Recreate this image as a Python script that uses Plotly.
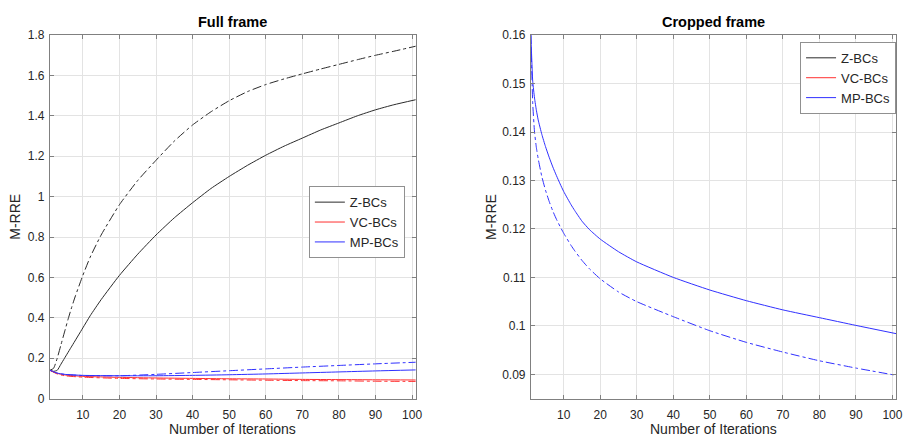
import plotly.graph_objects as go

# ---------------- data ----------------
# Full frame (left)
z_x = [1, 2, 3, 4, 5, 7, 10, 12, 15, 20, 25, 30, 35, 40, 45, 50, 55, 60, 65, 70, 75, 80, 85, 90, 95, 101]
z_solid = [0.14, 0.135, 0.14, 0.17, 0.20, 0.26, 0.35, 0.41, 0.49, 0.61, 0.715, 0.81, 0.895, 0.97, 1.04, 1.10,
           1.155, 1.205, 1.25, 1.29, 1.33, 1.365, 1.40, 1.43, 1.455, 1.48]
zd_x = [1, 2, 3, 4, 5, 6, 7, 8, 10, 12, 15, 20, 25, 30, 35, 40, 45, 50, 55, 60, 65, 70, 75, 80, 85, 90, 95, 101]
z_dash = [0.14, 0.15, 0.20, 0.265, 0.33, 0.395, 0.455, 0.51, 0.61, 0.70, 0.81, 0.96, 1.08, 1.18, 1.275, 1.355,
          1.42, 1.475, 1.52, 1.555, 1.583, 1.608, 1.632, 1.655, 1.678, 1.70, 1.72, 1.745]

v_x = [1, 3, 5, 10, 20, 30, 40, 50, 60, 70, 80, 90, 101]
vc_solid = [0.14, 0.125, 0.117, 0.110, 0.105, 0.102, 0.100, 0.098, 0.097, 0.095, 0.094, 0.093, 0.092]
vc_dash = [0.14, 0.122, 0.113, 0.106, 0.100, 0.097, 0.095, 0.093, 0.091, 0.089, 0.088, 0.086, 0.085]
mp_solid = [0.14, 0.126, 0.120, 0.115, 0.113, 0.113, 0.115, 0.118, 0.122, 0.127, 0.132, 0.137, 0.142]
mp_dash = [0.14, 0.126, 0.120, 0.114, 0.113, 0.120, 0.129, 0.138, 0.147, 0.156, 0.164, 0.172, 0.180]

# Cropped frame (right): MP-BCs
c_x = [1, 1.5, 2, 2.5, 3, 4, 5, 6, 7, 8, 9, 10, 12, 13, 15, 17, 20, 25, 30, 40, 50, 60, 70, 80, 90, 101]
c_solid = [0.16, 0.1505, 0.1470, 0.1445, 0.1425, 0.1395, 0.1370, 0.1348, 0.1328, 0.1310, 0.1293, 0.1277,
           0.1250, 0.1238, 0.1216, 0.1199, 0.1179, 0.1153, 0.1132, 0.1100, 0.1074, 0.1052, 0.1033, 0.1017,
           0.1001, 0.0984]
c_dash = [0.16, 0.1460, 0.1400, 0.1368, 0.1345, 0.1308, 0.1280, 0.1257, 0.1237, 0.1220, 0.1205, 0.1191,
          0.1166, 0.1155, 0.1135, 0.1118, 0.1097, 0.1070, 0.1050, 0.1019, 0.0990, 0.0966, 0.0946, 0.0928,
          0.0913, 0.0898]

x_ticks = [10, 20, 30, 40, 50, 60, 70, 80, 90, 100]
left_yticks = [0, 0.2, 0.4, 0.6, 0.8, 1, 1.2, 1.4, 1.6, 1.8]
right_yticks = [0.09, 0.1, 0.11, 0.12, 0.13, 0.14, 0.15, 0.16]
labels = ["Z-BCs", "VC-BCs", "MP-BCs"]

BLACK = "#2a2a2a"
RED = "#ff3030"
BLUE = "#3030ff"
FONT = "Liberation Sans, Arial, sans-serif"
TXT = "#262626"

fig = go.Figure()

def add(x, y, color, dash, name, show, xa, ya, legend):
    fig.add_trace(go.Scatter(
        x=x, y=y, mode="lines", name=name, showlegend=show,
        line=dict(color=color, width=1, dash=dash, shape="spline", smoothing=0.5),
        xaxis=xa, yaxis=ya, legend=legend, hoverinfo="skip"))

# left
add(z_x, z_solid, BLACK, "solid", labels[0], True, "x", "y", "legend")
add(v_x, vc_solid, RED, "solid", labels[1], True, "x", "y", "legend")
add(v_x, mp_solid, BLUE, "solid", labels[2], True, "x", "y", "legend")
add(zd_x, z_dash, BLACK, "dashdot", labels[0], False, "x", "y", "legend")
add(v_x, vc_dash, RED, "dashdot", labels[1], False, "x", "y", "legend")
add(v_x, mp_dash, BLUE, "dashdot", labels[2], False, "x", "y", "legend")

# right
add([None], [None], BLACK, "solid", labels[0], True, "x2", "y2", "legend2")
add([None], [None], RED, "solid", labels[1], True, "x2", "y2", "legend2")
add(c_x, c_solid, BLUE, "solid", labels[2], True, "x2", "y2", "legend2")
add(c_x, c_dash, BLUE, "dashdot", labels[2], False, "x2", "y2", "legend2")

W, H = 910, 445
L1, R1 = 50.3, 419.0
L2, R2 = 535.0, 903.0
TOP, BOT = 29.0, 404.3

axis_common = dict(
    showline=True, linecolor="#808080", linewidth=1, mirror="ticks",
    ticks="inside", ticklen=4, tickcolor="#808080", tickwidth=1,
    showgrid=True, gridcolor="#e3e3e3", gridwidth=1, zeroline=False,
    tickfont=dict(family=FONT, size=12, color=TXT),
)

fig.update_layout(
    width=W, height=H, margin=dict(l=0, r=0, t=0, b=0),
    paper_bgcolor="white", plot_bgcolor="white",
    xaxis=dict(domain=[L1 / W, R1 / W], range=[1, 101], tickvals=x_ticks, anchor="y",
               ticklabelstandoff=5, **axis_common),
    yaxis=dict(domain=[1 - BOT / H, 1 - TOP / H], range=[0, 1.8], tickvals=left_yticks, anchor="x",
               ticklabelstandoff=2, **axis_common),
    xaxis2=dict(domain=[L2 / W, R2 / W], range=[1, 101], tickvals=x_ticks, anchor="y2",
                ticklabelstandoff=5, **axis_common),
    yaxis2=dict(domain=[1 - BOT / H, 1 - TOP / H], range=[0.085, 0.16], tickvals=right_yticks, anchor="x2",
                ticklabelstandoff=2, **axis_common),
    legend=dict(x=408 / W, y=1 - 185 / H, xanchor="right", yanchor="top",
                bgcolor="white", bordercolor="#909090", borderwidth=1,
                font=dict(family=FONT, size=13, color=TXT), tracegroupgap=0,
                itemwidth=30),
    legend2=dict(x=903 / W, y=1 - 36 / H, xanchor="right", yanchor="top",
                 bgcolor="white", bordercolor="#909090", borderwidth=1,
                 font=dict(family=FONT, size=13, color=TXT), tracegroupgap=0,
                 itemwidth=30),
    showlegend=True,
)

ann = []
for cx, title in [((L1 + R1) / 2, "Full frame"), ((L2 + R2) / 2, "Cropped frame")]:
    ann.append(dict(x=cx / W, y=1 - 15 / H, xref="paper", yref="paper", text="<b>" + title + "</b>",
                    showarrow=False, font=dict(family=FONT, size=14.5, color="black"),
                    xanchor="center", yanchor="middle"))
    ann.append(dict(x=cx / W, y=1 - 436 / H, xref="paper", yref="paper", text="Number of Iterations",
                    showarrow=False, font=dict(family=FONT, size=14, color=TXT),
                    xanchor="center", yanchor="middle"))
for xx in [15, 495]:
    ann.append(dict(x=xx / W, y=1 - ((TOP + BOT) / 2) / H, xref="paper", yref="paper", text="M-RRE",
                    showarrow=False, textangle=-90, font=dict(family=FONT, size=14, color=TXT),
                    xanchor="center", yanchor="middle"))
fig.update_layout(annotations=ann)

fig.write_html("out.html")
